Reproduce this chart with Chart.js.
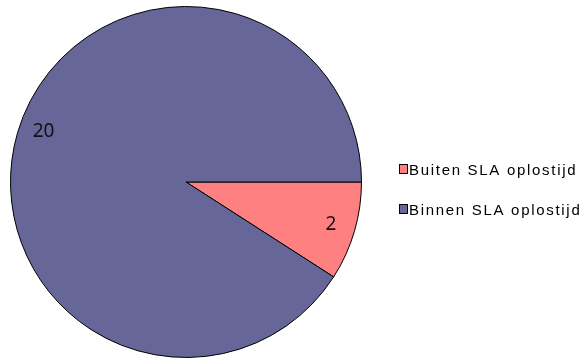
<!DOCTYPE html>
<html>
<head>
<meta charset="utf-8">
<script src="https://cdn.jsdelivr.net/npm/chart.js@4/dist/chart.umd.min.js"></script>
<style>
    html, body { margin: 0; padding: 0; background: #fff; }
    #wrap { width: 586px; height: 358px; position: relative; }
</style>
</head>
<body>
<div id="wrap"><canvas id="slaChart"></canvas></div>
<script>
// Tickets per SLA status
const categories = ['Buiten SLA oplostijd', 'Binnen SLA oplostijd'];
const counts = [2, 20];
const sliceColors = ['#FF8080', '#666699'];

// Value inside each slice, near the rim
const sliceValues = {
    id: 'sliceValues',
    afterDatasetsDraw(chart) {
        const ctx = chart.ctx;
        const meta = chart.getDatasetMeta(0);
        const nudge = [0, 3 * Math.PI / 180];
        ctx.save();
        ctx.letterSpacing = '0px';
        ctx.font = '19px "Noto Sans", sans-serif';
        ctx.fillStyle = '#111';
        ctx.textAlign = 'center';
        ctx.textBaseline = 'middle';
        meta.data.forEach(function(arc, i) {
            const mid = (arc.startAngle + arc.endAngle) / 2 + nudge[i];
            const r = arc.outerRadius * 0.86;
            ctx.fillText(String(counts[i]), arc.x + Math.cos(mid) * r, arc.y + Math.sin(mid) * r);
        });
        ctx.restore();
    }
};

// Legend on the right, small bordered squares
const sideLegend = {
    id: 'sideLegend',
    afterDraw(chart) {
        const ctx = chart.ctx;
        const ds = chart.data.datasets[0];
        ctx.save();
        ctx.font = '15px "Liberation Sans", Arial, sans-serif';
        ctx.letterSpacing = '1.7px';
        ctx.textAlign = 'left';
        ctx.textBaseline = 'alphabetic';
        chart.data.labels.forEach(function(label, i) {
            const top = 164 + i * 40;
            ctx.fillStyle = ds.backgroundColor[i];
            ctx.fillRect(399.5, top + 0.5, 8, 9);
            ctx.strokeStyle = '#000';
            ctx.lineWidth = 1;
            ctx.strokeRect(399.5, top + 0.5, 8, 9);
            ctx.fillStyle = '#000';
            ctx.fillText(label, 409, top + 10.5);
        });
        ctx.restore();
    }
};

const ctx = document.getElementById('slaChart').getContext('2d');
new Chart(ctx, {
    type: 'pie',
    data: {
        labels: categories,
        datasets: [{
            data: counts,
            backgroundColor: sliceColors,
            borderColor: '#000',
            borderWidth: 1
        }]
    },
    options: {
        responsive: true,
        maintainAspectRatio: false,
        animation: false,
        rotation: 90,
        layout: { padding: { left: 10, top: 6, right: 224, bottom: 0 } },
        plugins: {
            legend: { display: false },
            tooltip: { enabled: false }
        }
    },
    plugins: [sliceValues, sideLegend]
});
</script>
</body>
</html>
